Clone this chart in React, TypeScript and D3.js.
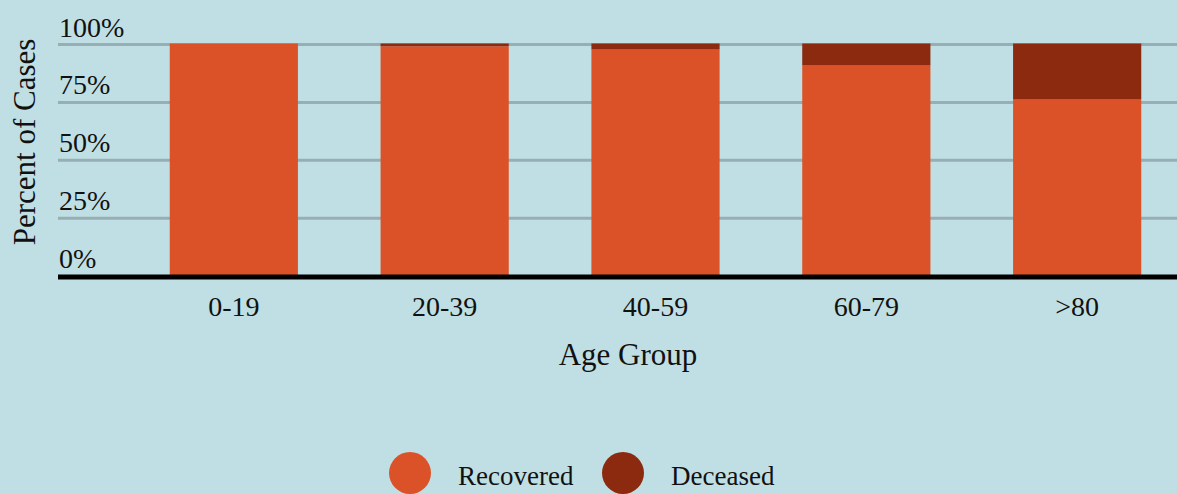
import React, { Component } from 'react';
import * as d3 from "d3";

const ageGroups = ["0-19", "20-39", "40-59", "60-79", ">80"];
const recovered = [100, 98.8, 97.4, 90.5, 75.8];
const deceased = [0, 1.2, 2.6, 9.5, 24.2];
const yTicks = [0, 25, 50, 75, 100];
const seriesNames = ["Recovered", "Deceased"];
const seriesColors = ["#db5229", "#8b2a0f"];

class App extends Component {
  svgRef = React.createRef<SVGSVGElement>();

  componentDidMount() {
    this.draw();
  }

  draw() {
    const width = 1177;
    const height = 494;
    const left = 58;

    const data = ageGroups.map((g, i) => ({ group: g, Recovered: recovered[i], Deceased: deceased[i] }));

    const svg = d3.select(this.svgRef.current).attr("width", width).attr("height", height);
    svg.selectAll("*").remove();

    svg.append("rect").attr("width", width).attr("height", height).attr("fill", "#c0dfe4");

    const xScale = d3.scaleBand().domain(ageGroups).range([left, 1253]).paddingInner(0.392).paddingOuter(0.53);
    const yScale = d3.scaleLinear().domain([0, 100]).range([275, 43.5]);

    // grid lines + tick labels
    const grid = svg.append("g").attr("class", "grid");
    grid.selectAll("line").data(yTicks.filter(d => d > 0)).join("line")
      .attr("x1", left).attr("x2", width)
      .attr("y1", d => yScale(d) + 1).attr("y2", d => yScale(d) + 1)
      .attr("stroke", "#97aeb5").attr("stroke-width", 3);

    grid.selectAll("text").data(yTicks).join("text")
      .attr("x", left + 1)
      .attr("y", d => yScale(d) - 7)
      .style("font-family", "'Liberation Serif', 'Times New Roman', serif")
      .style("font-size", "28px")
      .attr("fill", "#111")
      .text(d => d + "%");

    // stacked bars
    const stacked = d3.stack().keys(seriesNames)(data as any);
    svg.append("g").selectAll("g").data(stacked).join("g")
      .attr("fill", (d, i) => seriesColors[i])
      .selectAll("rect").data(d => d).join("rect")
      .attr("x", d => xScale((d.data as any).group))
      .attr("width", xScale.bandwidth())
      .attr("y", d => yScale(d[1]))
      .attr("height", d => yScale(d[0]) - yScale(d[1]));

    // baseline
    svg.append("line")
      .attr("x1", left).attr("x2", width)
      .attr("y1", 277).attr("y2", 277)
      .attr("stroke", "#000").attr("stroke-width", 5);

    // x tick labels
    svg.append("g").selectAll("text").data(ageGroups).join("text")
      .attr("text-anchor", "middle")
      .attr("x", d => xScale(d) + xScale.bandwidth() / 2)
      .attr("y", 316)
      .style("font-family", "'Liberation Serif', 'Times New Roman', serif")
      .style("font-size", "28px")
      .attr("fill", "#111")
      .text(d => d);

    svg.append("text")
      .attr("text-anchor", "middle")
      .attr("x", 628)
      .attr("y", 365)
      .style("font-family", "'Liberation Serif', 'Times New Roman', serif")
      .style("font-size", "31px")
      .attr("fill", "#111")
      .text("Age Group");

    svg.append("text")
      .attr("text-anchor", "middle")
      .attr("transform", "rotate(-90)")
      .attr("x", -142)
      .attr("y", 35)
      .style("font-family", "'Liberation Serif', 'Times New Roman', serif")
      .style("font-size", "31px")
      .attr("fill", "#111")
      .text("Percent of Cases");

    // legend
    const legendX = [410, 623];
    const legend = svg.append("g").selectAll("g").data(seriesNames).join("g")
      .attr("transform", (d, i) => `translate(${legendX[i]}, 473)`);
    legend.append("circle").attr("r", 21).attr("fill", (d, i) => seriesColors[i]);
    legend.append("text")
      .attr("x", 48)
      .attr("y", 12)
      .style("font-family", "'Liberation Serif', 'Times New Roman', serif")
      .style("font-size", "27px")
      .attr("fill", "#111")
      .text(d => d);
  }

  render() {
    return (
      <div style={{ position: "absolute", left: 0, top: 0 }}>
        <svg ref={this.svgRef} style={{ display: "block" }}></svg>
      </div>
    );
  }
}

export default App;
